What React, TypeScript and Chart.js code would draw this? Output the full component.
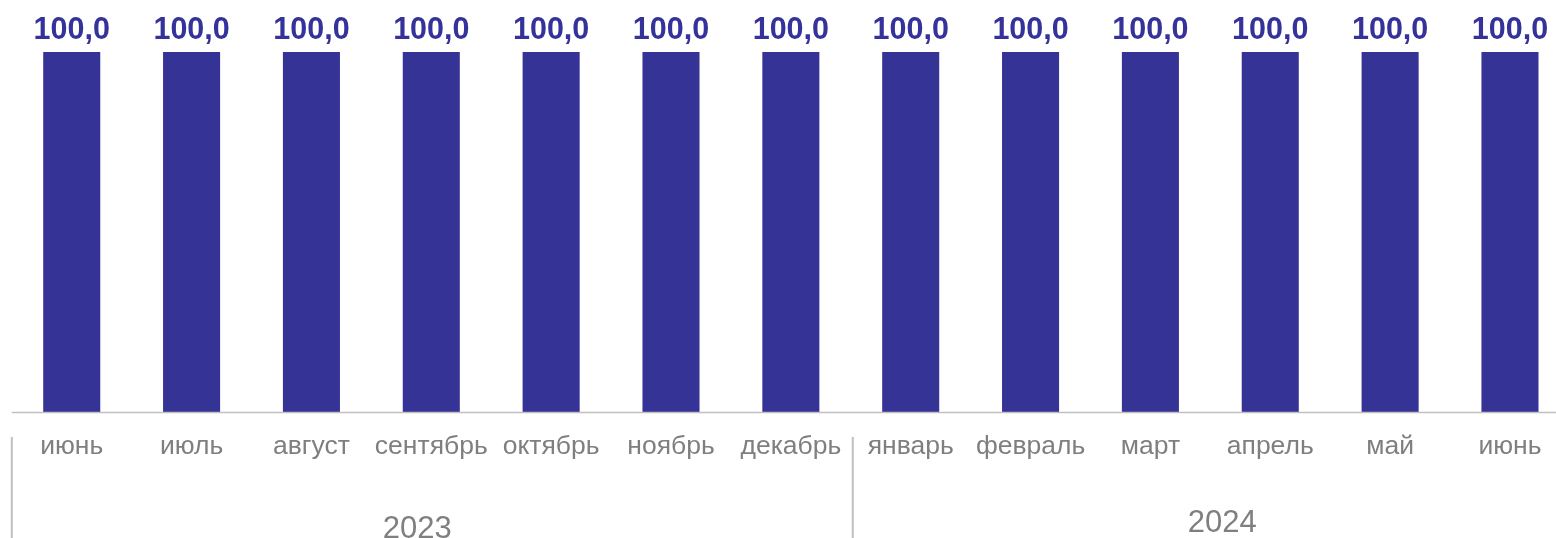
import React, { useEffect, useRef } from "react";
import { Chart, registerables } from "chart.js";

Chart.register(...registerables);

const categories = [
  "июнь", "июль", "август", "сентябрь", "октябрь", "ноябрь", "декабрь",
  "январь", "февраль", "март", "апрель", "май", "июнь",
];
const values = [100, 100, 100, 100, 100, 100, 100, 100, 100, 100, 100, 100, 100];
const years = ["2023", "2024"];
const yearSpans = [7, 6];

const BAR_COLOR = "#363396";
const LABEL_COLOR = "#35339a";
const TEXT_GRAY = "#7f7f7f";
const LINE_GRAY = "#c0c0c0";

const decorPlugin = {
  id: "decor",
  afterDatasetsDraw(chart: any) {
    const ctx = chart.ctx;
    const meta = chart.getDatasetMeta(0);
    ctx.save();
    ctx.font = "bold 30.5px 'Liberation Sans', Arial, sans-serif";
    ctx.fillStyle = LABEL_COLOR;
    ctx.textAlign = "center";
    ctx.textBaseline = "alphabetic";
    meta.data.forEach((bar: any, i: number) => {
      const txt = values[i].toFixed(1).replace(".", ",");
      ctx.fillText(txt, bar.x, bar.y - 13);
    });
    ctx.restore();
  },
  afterDraw(chart: any) {
    const ctx = chart.ctx;
    const area = chart.chartArea;
    const n = categories.length;
    const w = (area.right - area.left) / n;
    ctx.save();
    // axis line
    ctx.strokeStyle = LINE_GRAY;
    ctx.lineWidth = 1.5;
    ctx.beginPath();
    ctx.moveTo(area.left, area.bottom + 0.5);
    ctx.lineTo(area.right, area.bottom + 0.5);
    ctx.stroke();
    // month labels
    ctx.font = "26.5px 'Liberation Sans', Arial, sans-serif";
    ctx.fillStyle = TEXT_GRAY;
    ctx.textAlign = "center";
    ctx.textBaseline = "alphabetic";
    categories.forEach((c, i) => {
      const x = chart.scales.x.getPixelForValue(i);
      ctx.fillText(c, x, area.bottom + 41.5);
    });
    // separators & years
    let start = 0;
    const yearNudge = [-14, 12];
    const yearBase = [126, 120];
    ctx.strokeStyle = LINE_GRAY;
    ctx.lineWidth = 2;
    ctx.font = "31px 'Liberation Sans', Arial, sans-serif";
    years.forEach((y, gi) => {
      const x0 = area.left + start * w;
      const x1 = area.left + (start + yearSpans[gi]) * w;
      const sx = gi === 0 ? x0 : x0 + 2;
      ctx.beginPath();
      ctx.moveTo(sx, area.bottom + 25);
      ctx.lineTo(sx, chart.height);
      ctx.stroke();
      ctx.fillText(y, (x0 + x1) / 2 + yearNudge[gi], area.bottom + yearBase[gi]);
      start += yearSpans[gi];
    });
    const xe = area.left + start * w;
    ctx.beginPath();
    ctx.moveTo(xe, area.bottom + 25);
    ctx.lineTo(xe, chart.height);
    ctx.stroke();
    ctx.restore();
  },
};

export default function App() {
  const ref = useRef<HTMLCanvasElement>(null);
  useEffect(() => {
    if (!ref.current) return;
    const chart = new Chart(ref.current, {
      type: "bar",
      data: {
        labels: categories,
        datasets: [
          {
            data: values,
            backgroundColor: BAR_COLOR,
            borderWidth: 0,
            barPercentage: 0.476,
            categoryPercentage: 1,
          },
        ],
      },
      options: {
        animation: false,
        responsive: false,
        devicePixelRatio: 1,
        layout: { padding: { left: 11.8, right: 2.1, top: 52, bottom: 126 } },
        plugins: { legend: { display: false }, tooltip: { enabled: false } },
        scales: {
          x: { display: false },
          y: { display: false, min: 0, max: 100 },
        },
      },
      plugins: [decorPlugin],
    });
    return () => chart.destroy();
  }, []);
  return (
    <div
      style={{
        position: "absolute",
        left: 0,
        top: 0,
        width: 1556,
        height: 538,
        overflow: "hidden",
        background: "#ffffff",
      }}
    >
      <canvas ref={ref} width={1572} height={538} style={{ display: "block" }} />
    </div>
  );
}
